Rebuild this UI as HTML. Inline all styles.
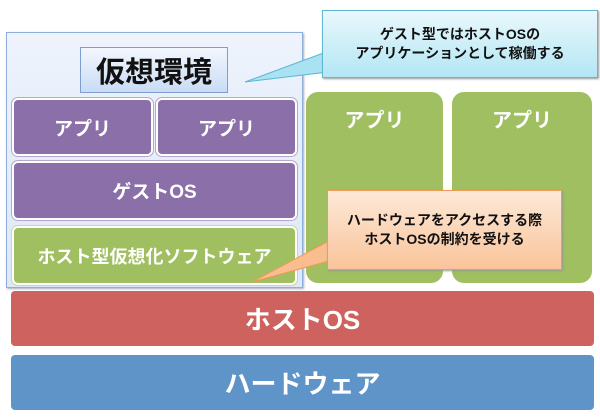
<!DOCTYPE html>
<html><head><meta charset="utf-8"><style>
body{margin:0;width:600px;height:418px;background:#fff;position:relative;overflow:hidden;font-family:"Liberation Sans","Noto Sans CJK JP",sans-serif}
div{position:absolute;box-sizing:border-box;display:flex;align-items:center;justify-content:center;text-align:center}
.p{background:#8b6fa8;border:2px solid #fff;border-radius:6px;color:#fff;font-size:19px;font-weight:bold;box-shadow:0 0 0 1px #b9a8cc}
.g{background:#9fbf60;border-radius:12px;color:#fff;font-size:20px;font-weight:bold}
</style></head><body>
<div style="left:6px;top:32px;width:297px;height:256px;background:linear-gradient(#eef3fc,#dde8f8);border:1px solid #8eaedc;box-shadow:1px 1px 2px #aab"></div>
<div style="left:80px;top:47px;width:148px;height:46px;background:linear-gradient(#f3f7fd,#c9dcf5);border:1px solid #7d9fd0;font-size:29px;font-weight:bold;color:#111">仮想環境</div>
<div class="p" style="left:12px;top:98px;width:141px;height:58px">アプリ</div>
<div class="p" style="left:156px;top:98px;width:141px;height:58px">アプリ</div>
<div class="p" style="left:12px;top:161px;width:285px;height:59px">ゲストOS</div>
<div class="p" style="left:12px;top:226px;width:285px;height:59px;background:#9fbf60;box-shadow:0 0 0 1px #c5d9a0;font-size:18px">ホスト型仮想化ソフトウェア</div>
<div class="g" style="left:306px;top:92px;width:137px;height:191px;align-items:flex-start;padding-top:12px">アプリ</div>
<div class="g" style="left:452px;top:92px;width:140px;height:191px;align-items:flex-start;padding-top:12px">アプリ</div>
<svg style="position:absolute;left:0;top:0" width="600" height="418">
<polygon points="245,82 345,45 345,70" fill="#a9e2f2" stroke="#5fb7d2" stroke-width="1"/>
<polygon points="252,282 340,235 340,258" fill="#f9bd8f" stroke="#f09a55" stroke-width="1"/>
</svg>
<div style="left:322px;top:10px;width:276px;height:68px;background:linear-gradient(#e9f8fc,#b3e6f4);border:1px solid #5fb7d2;font-size:14px;font-weight:bold;line-height:19px;color:#111;box-shadow:1px 1px 2px #999">ゲスト型ではホストOSの<br>アプリケーションとして稼働する</div>
<div style="left:327px;top:190px;width:235px;height:80px;background:linear-gradient(#fde9d8,#f9c49a);border:1px solid #f09a55;font-size:14px;font-weight:bold;line-height:19px;color:#111;box-shadow:1px 1px 2px #999">ハードウェアをアクセスする際<br>ホストOSの制約を受ける</div>
<div style="left:11px;top:291px;width:583px;height:55px;background:#cd625e;border-radius:4px;color:#fff;font-size:26px;font-weight:bold">ホストOS</div>
<div style="left:11px;top:355px;width:583px;height:55px;background:#5f94c9;border-radius:4px;color:#fff;font-size:26px;font-weight:bold">ハードウェア</div>
</body></html>
